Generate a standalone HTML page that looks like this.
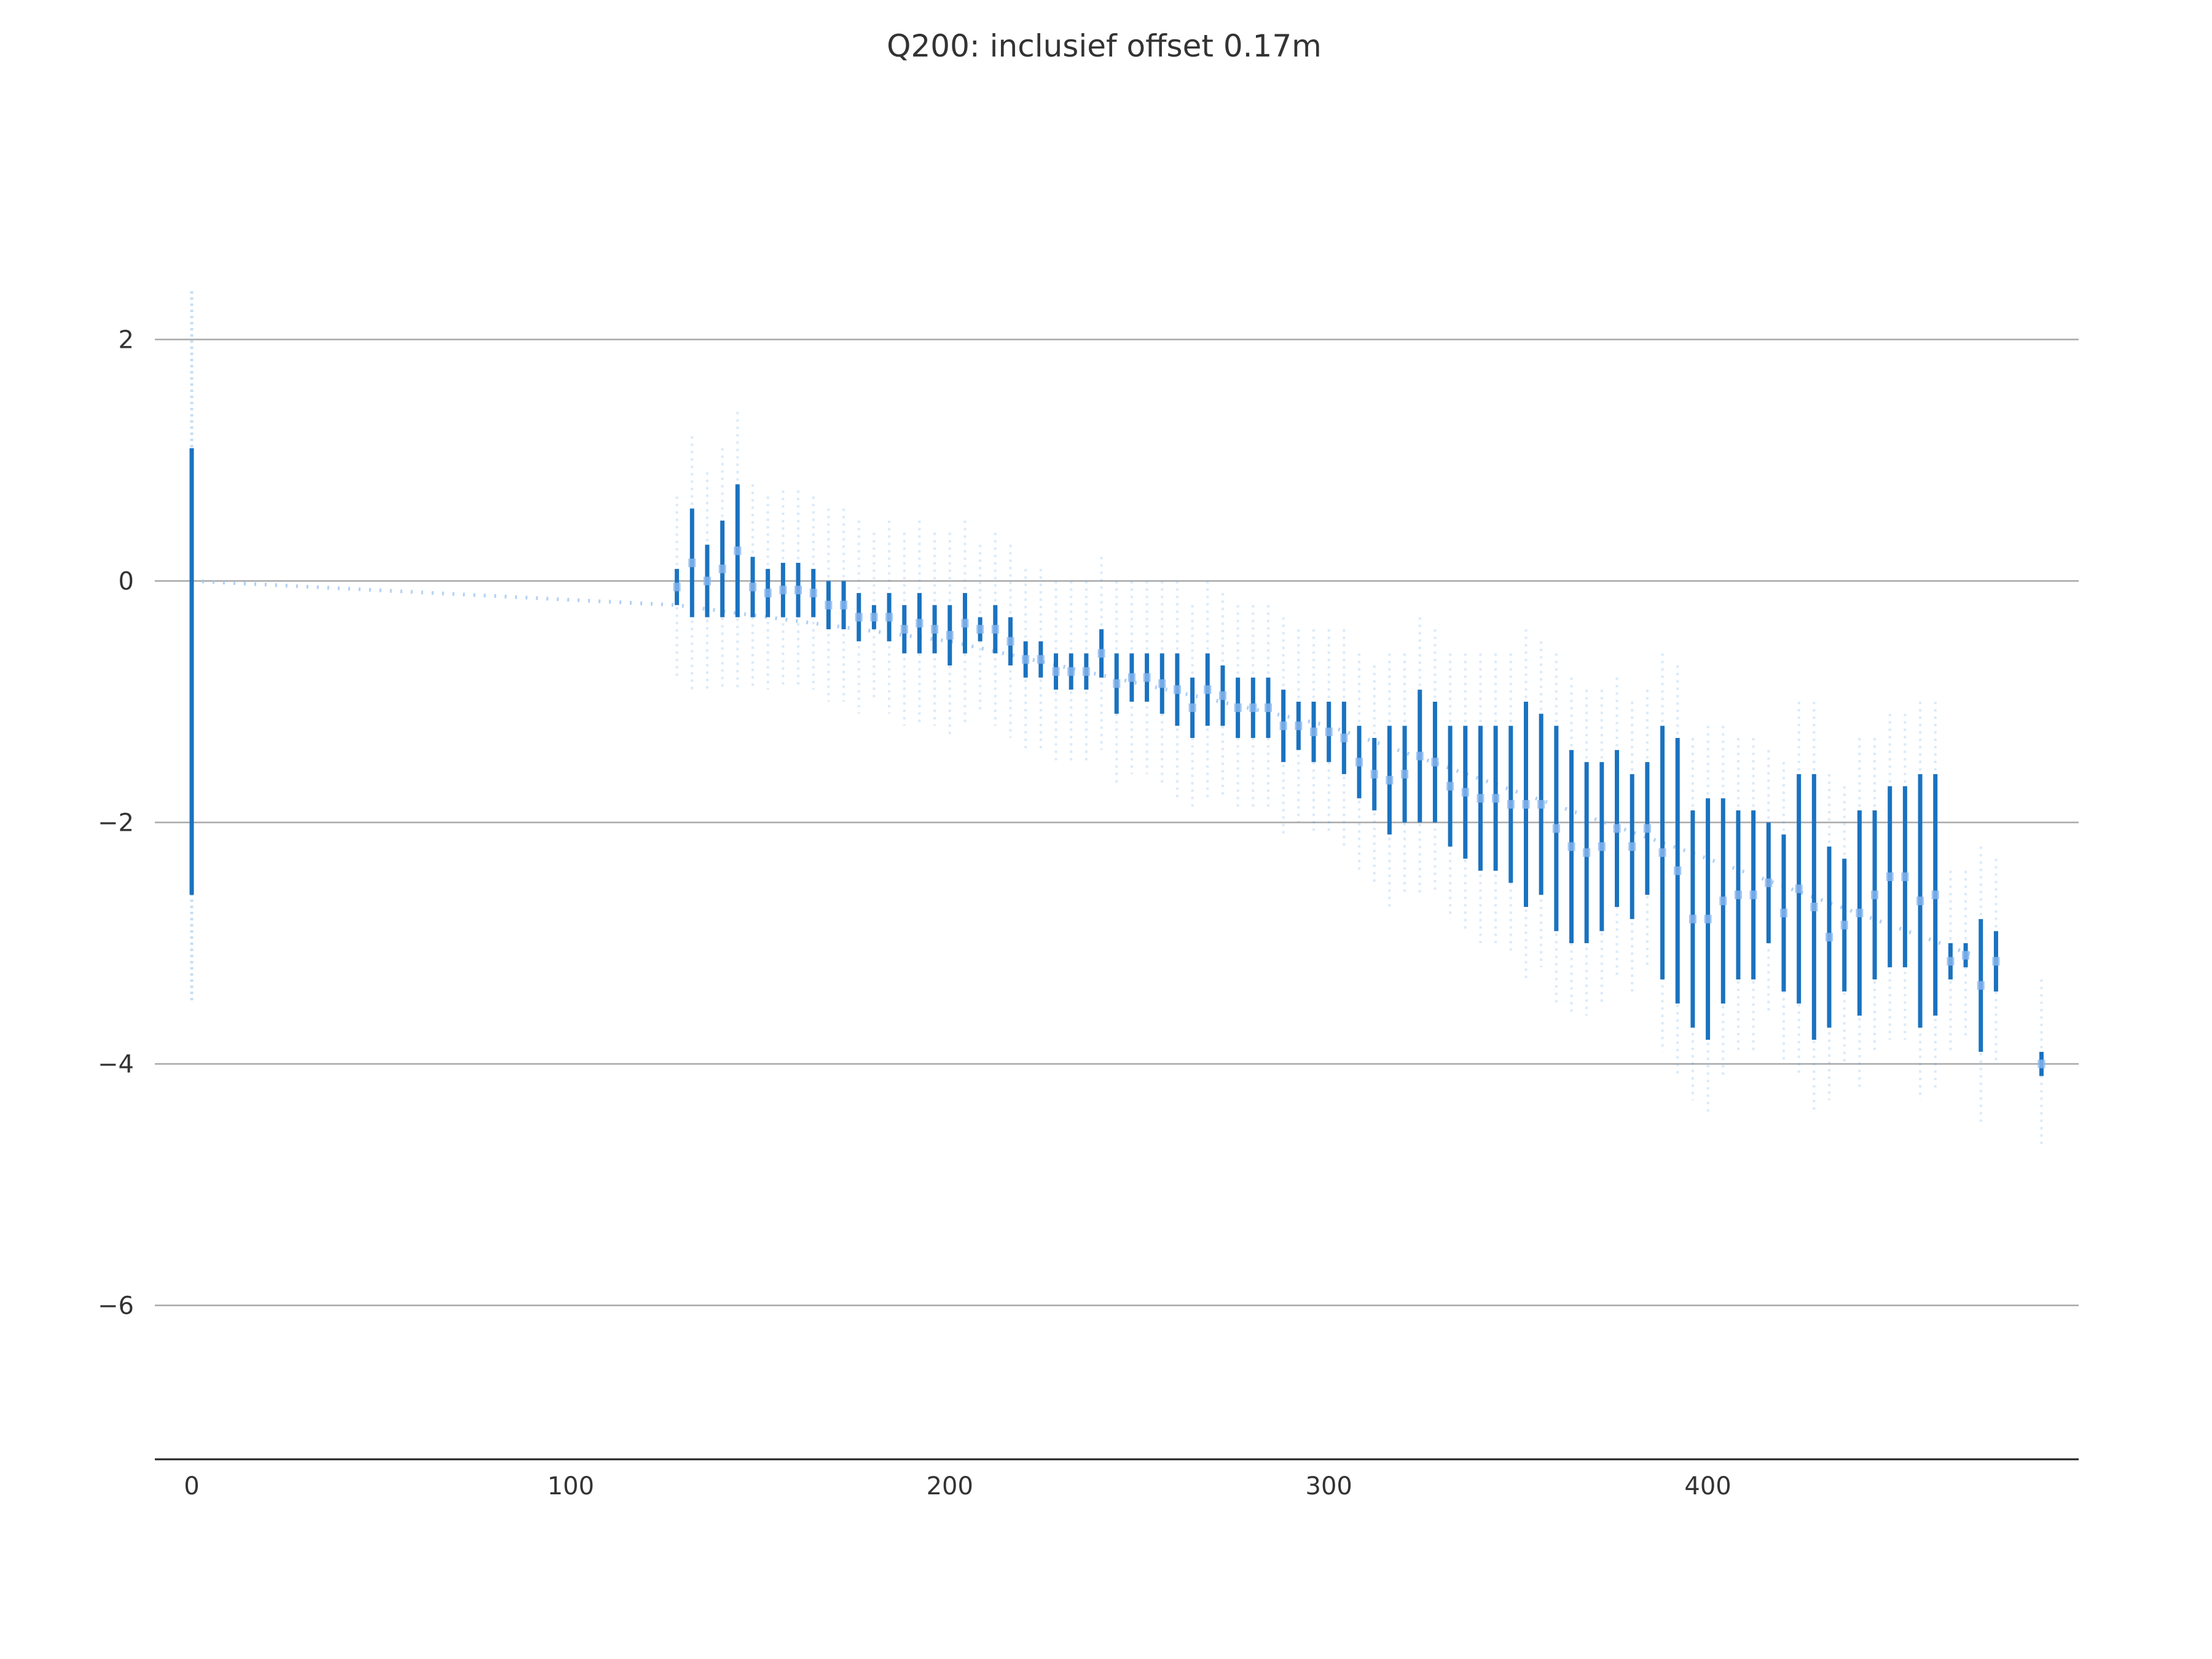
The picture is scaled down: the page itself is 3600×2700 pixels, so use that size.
<!DOCTYPE html>
<html><head><meta charset="utf-8">
<style>
html,body{margin:0;padding:0;background:#fff;}
svg{display:block;font-family:"DejaVu Sans","Liberation Sans",sans-serif;}
</style></head>
<body>
<svg id="chart" width="3600" height="2700" viewBox="0 0 3600 2700" xmlns="http://www.w3.org/2000/svg">
<text x="1797" y="92" font-size="50" fill="#333" text-anchor="middle">Q200: inclusief offset 0.17m</text>
<g id="grid"></g>
<g id="marks"></g>
<g id="axes"></g>
</svg>
<script>
const stripX = [128,132,136,140,144,148,152,156,160,164,168,172,176,180,184,188,192,196,200,204,208,212,216,220,224,228,232,236,240,244,248,252,256,260,264,268,272,276,280,284,288,292,296,300,304,308,312,316,320,324,328,332,336,340,344,348,352,356,360,364,368,372,376,380,384,388,392,396,400,404,408,412,416,420,424,428,432,436,440,444,448,452,456,460,464,468,472,476,488];
const stripLo = [-0.2,-0.3,-0.3,-0.3,-0.3,-0.3,-0.3,-0.3,-0.3,-0.3,-0.4,-0.4,-0.5,-0.4,-0.5,-0.6,-0.6,-0.6,-0.7,-0.6,-0.5,-0.6,-0.7,-0.8,-0.8,-0.9,-0.9,-0.9,-0.8,-1.1,-1.0,-1.0,-1.1,-1.2,-1.3,-1.2,-1.2,-1.3,-1.3,-1.3,-1.5,-1.4,-1.5,-1.5,-1.6,-1.8,-1.9,-2.1,-2.0,-2.0,-2.0,-2.2,-2.3,-2.4,-2.4,-2.5,-2.7,-2.6,-2.9,-3.0,-3.0,-2.9,-2.7,-2.8,-2.6,-3.3,-3.5,-3.7,-3.8,-3.5,-3.3,-3.3,-3.0,-3.4,-3.5,-3.8,-3.7,-3.4,-3.6,-3.3,-3.2,-3.2,-3.7,-3.6,-3.3,-3.2,-3.9,-3.4,-4.1];
const stripHi = [0.1,0.6,0.3,0.5,0.8,0.2,0.1,0.15,0.15,0.1,0,0,-0.1,-0.2,-0.1,-0.2,-0.1,-0.2,-0.2,-0.1,-0.3,-0.2,-0.3,-0.5,-0.5,-0.6,-0.6,-0.6,-0.4,-0.6,-0.6,-0.6,-0.6,-0.6,-0.8,-0.6,-0.7,-0.8,-0.8,-0.8,-0.9,-1.0,-1.0,-1.0,-1.0,-1.2,-1.3,-1.2,-1.2,-0.9,-1.0,-1.2,-1.2,-1.2,-1.2,-1.2,-1.0,-1.1,-1.2,-1.4,-1.5,-1.5,-1.4,-1.6,-1.5,-1.2,-1.3,-1.9,-1.8,-1.8,-1.9,-1.9,-2.0,-2.1,-1.6,-1.6,-2.2,-2.3,-1.9,-1.9,-1.7,-1.7,-1.6,-1.6,-3.0,-3.0,-2.8,-2.9,-3.9];
const trendX = [0,128,200,300,400,470];
const trendY = [0,-0.2,-0.5,-1.2,-2.3,-3.1];
const zeroStripLo = -2.6, zeroStripHi = 1.1, zeroFaintLo = -3.5, zeroFaintHi = 2.4;
const xTicks = [0,100,200,300,400];
const yTicks = [2,0,-2,-4,-6];

const NS = "http://www.w3.org/2000/svg";
const L=252,R=3383,B=2375;
const sx = v => 312 + v*6.169;
const sy = v => 945.5 - v*196.5;
function mk(tag, attrs, parent){const e=document.createElementNS(NS,tag);for(const k in attrs)e.setAttribute(k,attrs[k]);parent.appendChild(e);return e;}
const grid=document.getElementById('grid'), marks=document.getElementById('marks'), axes=document.getElementById('axes');

yTicks.forEach(t=>{
  const g=mk('line',{x1:L,x2:R,y1:sy(t),y2:sy(t),stroke:'#a8a8a8','stroke-width':2.5},grid);
  
  
  const tx=mk('text',{x:218,y:sy(t)+14,'font-size':40,fill:'#333','text-anchor':'end'},axes);
  tx.textContent=(t<0?'\u2212'+(-t):String(t));
  
  
});
xTicks.forEach(t=>{
  const tx=mk('text',{x:sx(t),y:2432,'font-size':40,fill:'#333','text-anchor':'middle'},axes);
  tx.textContent=String(t);
  
  
});
const ax=mk('line',{x1:L,x2:R,y1:B,y2:B,stroke:'#222','stroke-width':3},axes);



let d='';
trendX.forEach((x,i)=>{d+=(i?'L':'M')+sx(x)+' '+sy(trendY[i]);});
const tl=mk('path',{d:d,fill:'none',stroke:'#9cc4f2','stroke-width':6,'stroke-dasharray':'3 14','stroke-opacity':0.8},marks);



const zf=mk('line',{x1:sx(0),x2:sx(0),y1:sy(zeroFaintHi),y2:sy(zeroFaintLo),stroke:'#5aa0e0','stroke-width':5,'stroke-opacity':0.35,'stroke-dasharray':'4 6'},marks);


const zs=mk('line',{x1:sx(0),x2:sx(0),y1:sy(zeroStripHi),y2:sy(zeroStripLo),stroke:'#1a72c0','stroke-width':7},marks);



stripX.forEach((x,i)=>{
  const lo=stripLo[i], hi=stripHi[i];
  const f=mk('line',{x1:sx(x),x2:sx(x),y1:sy(hi+0.6),y2:sy(lo-0.6),stroke:'#5aa0e0','stroke-width':4,'stroke-opacity':0.22,'stroke-dasharray':'4 8'},marks);
  
  
  const s=mk('line',{x1:sx(x),x2:sx(x),y1:sy(hi),y2:sy(lo),stroke:'#1a72c0','stroke-width':7},marks);
  
  
  const m=mk('line',{x1:sx(x)-6,x2:sx(x)+6,y1:sy((lo+hi)/2),y2:sy((lo+hi)/2),stroke:'#8ab8f0','stroke-width':14,'stroke-opacity':0.8},marks);
  
  
});
</script>
</body></html>
